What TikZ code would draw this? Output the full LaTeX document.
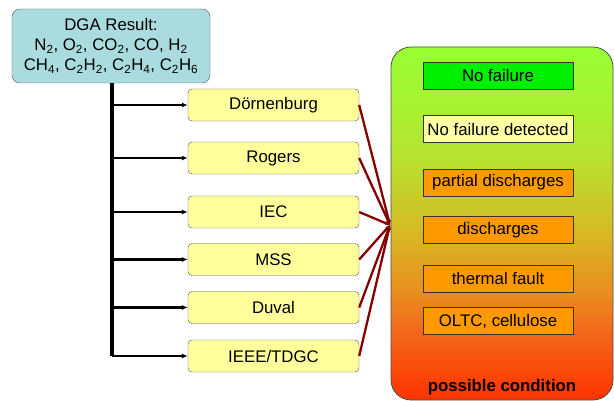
\documentclass[tikz,border=0pt]{standalone}
\usepackage{fontspec}
\setmainfont{Liberation Sans}
\usetikzlibrary{arrows.meta}
\definecolor{dgafill}{HTML}{AADCDF}
\definecolor{methfill}{HTML}{FFFF9C}
\definecolor{boxline}{HTML}{555555}
\definecolor{redline}{HTML}{850000}
\definecolor{okgreen}{HTML}{00F000}
\definecolor{paleyel}{HTML}{FFFFA8}
\definecolor{orangebox}{HTML}{FF9900}
\definecolor{g0}{HTML}{FF3300}
\definecolor{g1}{HTML}{F26A1C}
\definecolor{g2}{HTML}{E8901F}
\definecolor{g3}{HTML}{DAB424}
\definecolor{g4}{HTML}{C8CC2A}
\definecolor{g5}{HTML}{B4E430}
\definecolor{g6}{HTML}{A6F432}
\definecolor{g7}{HTML}{99FF33}
\pgfdeclareverticalshading{condshade}{100bp}{color(0bp)=(g0); color(25bp)=(g0); color(35bp)=(g1); color(40.6bp)=(g2); color(47.7bp)=(g3); color(53.3bp)=(g4); color(60.4bp)=(g5); color(67.5bp)=(g6); color(75bp)=(g7); color(100bp)=(g7)}
\tikzset{
  txt/.style={font=\fontsize{16.8}{20}\selectfont},
  dgabox/.style={txt, draw=boxline, fill=dgafill, rounded corners=8pt, minimum width=198pt, minimum height=74pt, align=center, inner sep=0pt},
  methbox/.style={txt, draw=boxline, fill=methfill, rounded corners=4pt, minimum width=171pt, minimum height=32pt, inner sep=0pt},
  resbox/.style={txt, draw=black!80, line width=0.8pt, minimum width=150pt, minimum height=27pt, inner sep=0pt},
  trunkline/.style={line width=3.5pt, black},
  branch/.style={line width=2.5pt, black, -{Latex[length=6pt,width=5pt]}},
  redconn/.style={line width=2.3pt, redline, -{Stealth[length=5pt,width=4pt]}},
}
\begin{document}
\begin{tikzpicture}[x=1pt,y=-1pt]
\useasboundingbox (0,0) rectangle (614,401);
% condition container
\path[draw=black!70, line width=0.8pt, shading=condshade, rounded corners=20pt] (391,47) rectangle (613,400);
\node[txt, font=\fontsize{16.8}{20}\selectfont\bfseries] (cond) at (502,387) {possible condition};
% DGA box
\node[dgabox] (dga) at (111,46) {DGA Result:\\N\textsubscript{2}, O\textsubscript{2}, CO\textsubscript{2}, CO, H\textsubscript{2}\\CH\textsubscript{4}, C\textsubscript{2}H\textsubscript{2}, C\textsubscript{2}H\textsubscript{4}, C\textsubscript{2}H\textsubscript{6}};
% methods
\node[methbox] (m1) at (273.5,105) {Dörnenburg};
\node[methbox] (m2) at (273.5,158) {Rogers};
\node[methbox] (m3) at (273.5,212) {IEC};
\node[methbox] (m4) at (273.5,259.5) {MSS};
\node[methbox] (m5) at (273.5,307.5) {Duval};
\node[methbox] (m6) at (273.5,356) {IEEE/TDGC};
% results
\node[resbox, fill=okgreen] (r1) at (498,75.5) {No failure};
\node[resbox, fill=paleyel] (r2) at (498,129) {No failure detected};
\node[resbox, fill=orangebox] (r3) at (498,182.5) {partial discharges};
\node[resbox, fill=orangebox] (r4) at (498,230) {discharges};
\node[resbox, fill=orangebox] (r5) at (498,278.5) {thermal fault};
\node[resbox, fill=orangebox] (r6) at (498,321) {OLTC, cellulose};
% trunk and branches
\coordinate (trunk) at (112,356);
\draw[trunkline] (dga.south -| trunk) -- (trunk);
\foreach \m in {m1,m2,m3,m4,m5,m6}{
  \draw[branch] (trunk |- \m.west) -- (\m.west);
}
% red connectors
\coordinate (hub) at (390,225);
\foreach \m in {m1,m2,m3,m4,m5,m6}{
  \draw[redconn] (\m.east) -- (hub);
}
\end{tikzpicture}
\end{document}
